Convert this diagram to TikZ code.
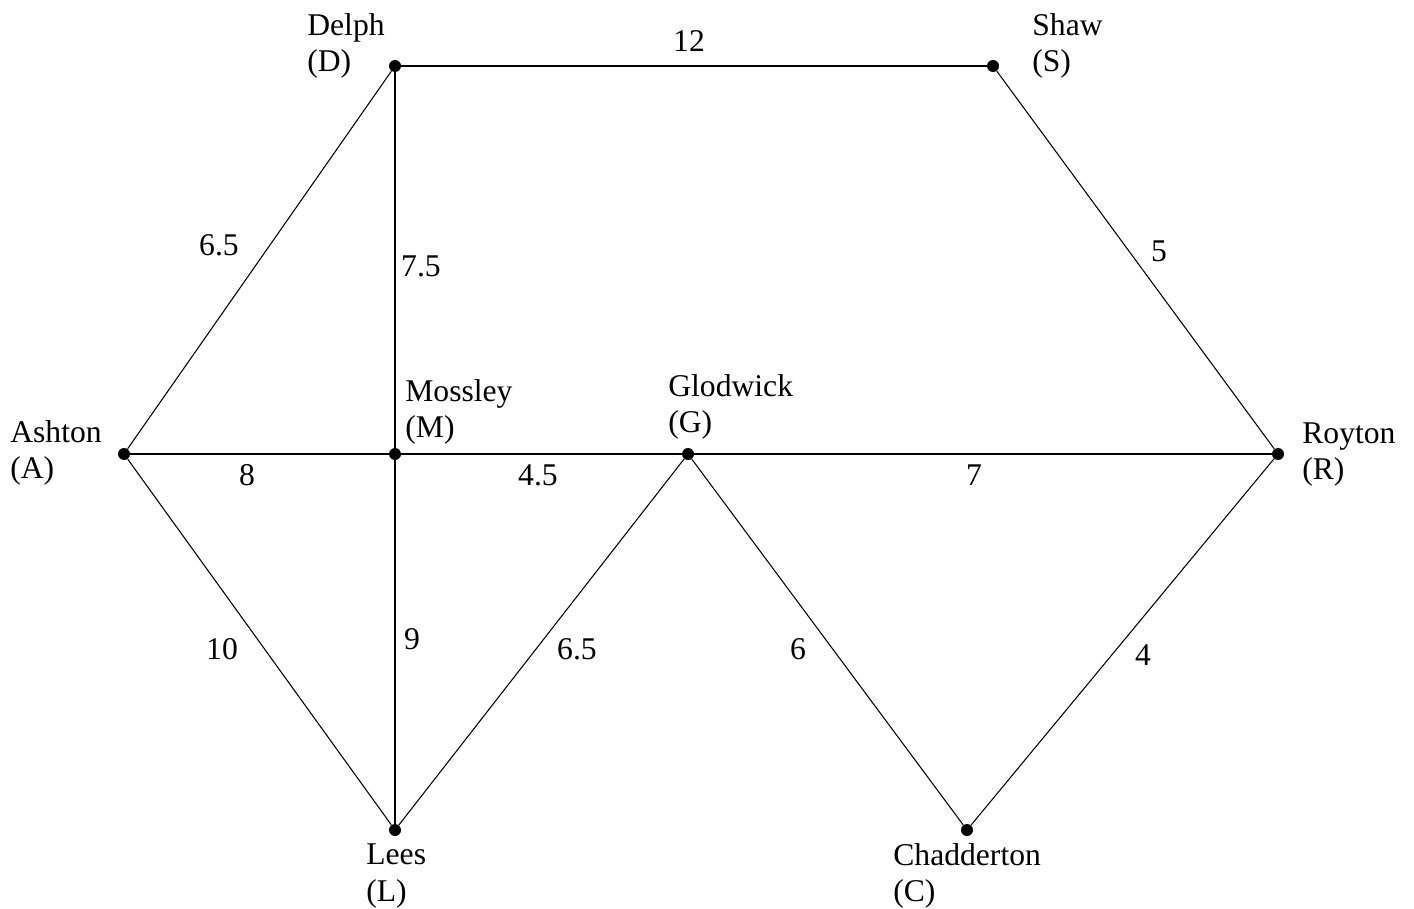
\documentclass[tikz,border=0pt]{standalone}
\usepackage{fontspec}
\setmainfont{Liberation Serif}
\begin{document}
\begin{tikzpicture}[x=0.02cm,y=-0.02cm,
  edge/.style={line width=0.6pt},
  dot/.style={circle,fill=black,inner sep=0pt,minimum size=0.24cm},
  place/.style={anchor=west,align=left,inner sep=0pt,font=\fontsize{18pt}{20.5pt}\selectfont},
  wt/.style={inner sep=0pt,font=\fontsize{18pt}{20.5pt}\selectfont}]
\useasboundingbox (0,0) rectangle (1414,909);
\node[dot] (D) at (395,66) {};
\node[dot] (S) at (993,66) {};
\node[dot] (A) at (124,454) {};
\node[dot] (M) at (395,454) {};
\node[dot] (G) at (688,454) {};
\node[dot] (R) at (1278,454) {};
\node[dot] (L) at (395,830) {};
\node[dot] (C) at (967,830) {};
\draw[edge] (D) -- (S);
\draw[edge] (D) -- (A);
\draw[edge] (D) -- (M);
\draw[edge] (S) -- (R);
\draw[edge] (A) -- (M);
\draw[edge] (M) -- (G);
\draw[edge] (G) -- (R);
\draw[edge] (A) -- (L);
\draw[edge] (M) -- (L);
\draw[edge] (G) -- (L);
\draw[edge] (G) -- (C);
\draw[edge] (R) -- (C);
\node[place] (tD) at (307,46) {Delph\\(D)};
\node[place] (tS) at (1032,46) {Shaw\\(S)};
\node[place] (tA) at (10,453) {Ashton\\(A)};
\node[place] (tM) at (405,412) {Mossley\\(M)};
\node[place] (tG) at (668,407) {Glodwick\\(G)};
\node[place] (tR) at (1302,455) {Royton\\(R)};
\node[place] (tL) at (366,876) {Lees\\(L)};
\node[place] (tC) at (893,876) {Chadderton\\(C)};
\node[wt] (w1) at (689,41) {12};
\node[wt] (w2) at (219,245) {6.5};
\node[wt] (w3) at (421,266) {7.5};
\node[wt] (w4) at (1159,251) {5};
\node[wt] (w5) at (247,475) {8};
\node[wt] (w6) at (538,475) {4.5};
\node[wt] (w7) at (974,475) {7};
\node[wt] (w8) at (222,649) {10};
\node[wt] (w9) at (412,639) {9};
\node[wt] (w10) at (577,649) {6.5};
\node[wt] (w11) at (798,649) {6};
\node[wt] (w12) at (1143,655) {4};
\end{tikzpicture}
\end{document}
